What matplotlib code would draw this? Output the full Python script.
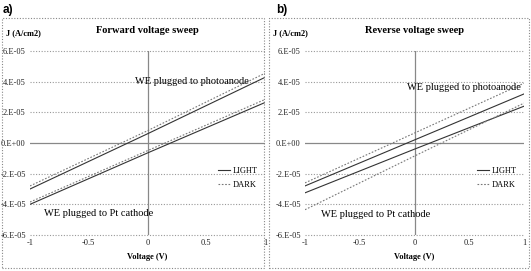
import matplotlib.pyplot as plt
from matplotlib.patches import Rectangle
from matplotlib.lines import Line2D

plt.rcParams['font.family'] = ['Liberation Serif', 'DejaVu Serif']

# voltage points (V)
voltage = [-1, 0, 1]

# forward sweep, J (A/cm2)
fwd_photo_light = [-3.0e-05, 0.6e-05, 4.28e-05]
fwd_photo_dark = [-2.8e-05, 0.8e-05, 4.55e-05]
fwd_cath_light = [-4.0e-05, -0.65e-05, 2.64e-05]
fwd_cath_dark = [-3.85e-05, -0.5e-05, 2.84e-05]

# reverse sweep, J (A/cm2)
rev_photo_light = [-2.8e-05, 0.2e-05, 3.2e-05]
rev_photo_dark = [-2.6e-05, 0.65e-05, 3.9e-05]
rev_cath_light = [-3.25e-05, -0.4e-05, 2.4e-05]
rev_cath_dark = [-4.35e-05, -0.85e-05, 2.6e-05]

yticks = [-6e-05, -4e-05, -2e-05, 0, 2e-05, 4e-05, 6e-05]
ytick_labels = ['-6.E-05', '-4.E-05', '-2.E-05', '0.E+00', '2.E-05', '4.E-05', '6.E-05']
xticks = [-1, -0.5, 0, 0.5, 1]
xtick_labels = ['-1', '-0.5', '0', '0.5', '1']

W, H = 531, 271
fig = plt.figure(figsize=(W / 100, H / 100), dpi=100)


def px_axes(x0, x1, y0, y1):
    return fig.add_axes([x0 / W, 1 - y1 / H, (x1 - x0) / W, (y1 - y0) / H])


def draw_panel(ax, title, photo_light, photo_dark, cath_light, cath_dark,
               photo_xy, cath_xy):
    ax.set_xlim(-1, 1)
    ax.set_ylim(-6e-05, 6e-05)
    for y in yticks:
        if y == 0:
            continue
        ax.axhline(y, color='#999999', lw=0.8, ls=(0, (1, 1.5)), zorder=1, clip_on=False)
    ax.axhline(0, color='#888888', lw=0.9, zorder=1)
    ax.axvline(0, color='#888888', lw=0.9, zorder=1)
    for s in ax.spines.values():
        s.set_visible(False)
    ax.set_yticks(yticks)
    ax.set_yticklabels(ytick_labels)
    ax.set_xticks(xticks)
    ax.set_xticklabels(xtick_labels)
    ax.tick_params(length=0, labelsize=6, pad=3, colors='#222222')

    ax.plot(voltage, photo_light, color='#333333', lw=0.8, zorder=3)
    ax.plot(voltage, cath_light, color='#333333', lw=0.8, zorder=3)
    ax.plot(voltage, photo_dark, color='#777777', lw=0.8, ls=(0, (1.5, 1.5)), zorder=3)
    ax.plot(voltage, cath_dark, color='#777777', lw=0.8, ls=(0, (1.5, 1.5)), zorder=3)

    ax.text(photo_xy[0], photo_xy[1], 'WE plugged to photoanode', fontsize=7.5,
            ha='left', va='bottom', zorder=4)
    ax.text(cath_xy[0], cath_xy[1], 'WE plugged to Pt cathode', fontsize=7.5,
            ha='left', va='top', zorder=4)

    ax.set_xlabel('Voltage (V)', fontsize=6, fontweight='bold', labelpad=4)
    ax.set_title(title, fontsize=7.5, fontweight='bold', pad=13)

    handles = [Line2D([], [], color='#333333', lw=0.8),
               Line2D([], [], color='#777777', lw=0.8, ls=(0, (1.5, 1.5)))]
    ax.legend(handles, ['LIGHT', 'DARK'], loc='center right',
              bbox_to_anchor=(1.0, 0.31), frameon=False, fontsize=6,
              handlelength=1.4, handletextpad=0.3, labelspacing=0.7)


ax_a = px_axes(30, 265, 51, 235)
draw_panel(ax_a, 'Forward voltage sweep', fwd_photo_light, fwd_photo_dark,
           fwd_cath_light, fwd_cath_dark, (-0.11, 3.7e-05), (-0.88, -4.3e-05))

ax_b = px_axes(305, 524, 51, 235)
draw_panel(ax_b, 'Reverse voltage sweep', rev_photo_light, rev_photo_dark,
           rev_cath_light, rev_cath_dark, (-0.07, 3.35e-05), (-0.85, -4.4e-05))

# panel frames and labels
for x0, x1, lab, lx in [(2, 264, 'a)', 3), (269, 529, 'b)', 276)]:
    fig.patches.append(Rectangle((x0 / W, 3 / H), (x1 - x0) / W, (H - 21) / H,
                                 transform=fig.transFigure, fill=False,
                                 ec='#888888', lw=0.8, ls=(0, (1, 1.5))))
    fig.text(lx / W, 1 - 10 / H, lab, fontsize=8.5, fontweight='bold',
             family='Liberation Sans', va='center', ha='left')

fig.text(6 / W, 1 - 33 / H, 'J (A/cm2)', fontsize=6, fontweight='bold', va='center')
fig.text(273 / W, 1 - 33 / H, 'J (A/cm2)', fontsize=6, fontweight='bold', va='center')

fig.savefig('out.png', dpi=100)
